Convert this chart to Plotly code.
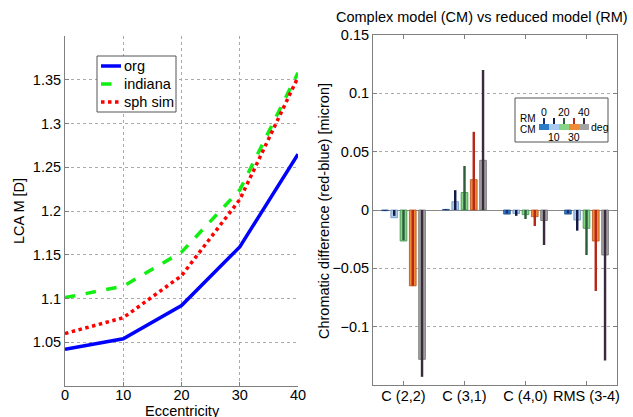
import plotly.graph_objects as go

# ---------------- data ----------------
ecc = [0, 10, 20, 30, 40]
lca_org = [1.042, 1.054, 1.092, 1.159, 1.265]
lca_indiana = [1.101, 1.114, 1.153, 1.224, 1.358]
lca_sphsim = [1.060, 1.078, 1.126, 1.213, 1.353]
series_names = ["org", "indiana", "sph sim"]

categories = ["C (2,2)", "C (3,1)", "C (4,0)", "RMS (3-4)"]
degrees = ["0", "10", "20", "30", "40"]
# complex model (wide bars), one list per eccentricity
cm_0 = [-0.0006, 0.0005, -0.0035, -0.0035]
cm_10 = [-0.0066, 0.0071, -0.0030, -0.0086]
cm_20 = [-0.0266, 0.0150, -0.0040, -0.0157]
cm_30 = [-0.0650, 0.0260, -0.0057, -0.0266]
cm_40 = [-0.1280, 0.0426, -0.0090, -0.0386]
# reduced model (narrow bars)
rm_0 = [-0.0004, 0.0004, -0.0030, -0.0030]
rm_10 = [-0.0050, 0.0170, -0.0050, -0.0177]
rm_20 = [-0.0260, 0.0377, -0.0077, -0.0386]
rm_30 = [-0.0650, 0.0670, -0.0137, -0.0694]
rm_40 = [-0.1430, 0.1200, -0.0300, -0.1290]

cm_series = [cm_0, cm_10, cm_20, cm_30, cm_40]
rm_series = [rm_0, rm_10, rm_20, rm_30, rm_40]

left_yticks = [1.05, 1.1, 1.15, 1.2, 1.25, 1.3, 1.35]
right_yticks = [-0.1, -0.05, 0, 0.05, 0.1, 0.15]

# ---------------- styles ----------------
W, H = 633, 417
FONT = "Liberation Sans, Arial, sans-serif"
FS = 14.5
line_colors = ["#0000ff", "#11ee11", "#ff0000"]
line_dashes = ["solid", "dash", "dot"]
cm_colors = ["#2f7cc6", "#a9c9ee", "#86d586", "#f08a36", "#a3a3a3"]
cm_edges = ["#1c4f86", "#6f8fb8", "#3f8f4f", "#b0501a", "#6f6f6f"]
rm_colors = ["#1d2c78", "#121a45", "#2d5e3a", "#b82818", "#3b2a3d"]


def px(x):
    return x / W


def py(y):
    return 1 - y / H


fig = go.Figure()

# left: LCA lines
for name, ys, c, d in zip(series_names, [lca_org, lca_indiana, lca_sphsim],
                          line_colors, line_dashes):
    fig.add_trace(go.Scatter(x=ecc, y=ys, mode="lines", name=name,
                             line=dict(color=c, width=3.5, dash=d),
                             showlegend=False, xaxis="x", yaxis="y"))

# right: grouped bars
step = 0.152
cm_w = 0.11
rm_w = 0.04
for i in range(5):
    center = -0.304 + i * step
    fig.add_trace(go.Bar(x=categories, y=cm_series[i], width=cm_w,
                         offset=center - cm_w / 2, name="CM " + degrees[i],
                         marker=dict(color=cm_colors[i],
                                     line=dict(color=cm_edges[i], width=0.8)),
                         showlegend=False, xaxis="x2", yaxis="y2"))
for i in range(5):
    center = -0.304 + i * step
    fig.add_trace(go.Bar(x=categories, y=rm_series[i], width=rm_w,
                         offset=center - rm_w / 2, name="RM " + degrees[i],
                         marker=dict(color=rm_colors[i], line=dict(width=0)),
                         showlegend=False, xaxis="x2", yaxis="y2"))

axis_common = dict(
    showline=True, linecolor="#7f7f7f", linewidth=1,
    ticks="inside", ticklen=4, tickcolor="#7f7f7f",
    tickfont=dict(family=FONT, size=FS, color="#000"),
    showgrid=True, gridcolor="#aaaaaa", griddash="dot", gridwidth=1,
    zeroline=False, automargin=False,
)

fig.update_layout(
    width=W, height=H,
    margin=dict(l=0, r=0, t=0, b=0),
    paper_bgcolor="white", plot_bgcolor="white",
    font=dict(family=FONT, size=FS, color="#000"),
    barmode="overlay",
    showlegend=False,
    xaxis=dict(domain=[px(65), px(298)], range=[0, 40],
               tickvals=[0, 10, 20, 30, 40], anchor="y",
               ticklabelstandoff=-4, **axis_common),
    yaxis=dict(domain=[py(386), py(36)], range=[1.0, 1.4],
               tickvals=left_yticks, anchor="x", **axis_common),
    xaxis2=dict(domain=[px(373), px(617)], range=[-0.5, 3.5], type="category",
                anchor="y2", mirror="ticks", ticklabelstandoff=-2,
                **{**axis_common, "showgrid": False}),
    yaxis2=dict(domain=[py(385), py(35)], range=[-0.15, 0.15],
                tickvals=right_yticks, anchor="x2", mirror="ticks",
                **{**axis_common, "zeroline": True, "zerolinecolor": "#8a8a8a",
                   "zerolinewidth": 1}),
)

annotations = [
    dict(text="Complex model (CM) vs reduced model (RM)", x=px(482), y=py(17),
         font=dict(size=FS)),
    dict(text="LCA M [D]", x=px(19), y=py(211), textangle=-90, font=dict(size=FS)),
    dict(text="Eccentricity", x=px(182), y=py(411), font=dict(size=FS)),
    dict(text="Chromatic difference (red-blue) [micron]", x=px(324), y=py(211),
         textangle=-90, font=dict(size=FS)),
    # inset legend texts
    dict(text="RM", x=px(528), y=py(118), font=dict(size=10)),
    dict(text="CM", x=px(528), y=py(129), font=dict(size=10)),
    dict(text="deg", x=px(600), y=py(127), font=dict(size=10.5)),
]
for i, d in enumerate(degrees):
    cx = 544 + i * 10
    yy = 112 if i % 2 == 0 else 137
    annotations.append(dict(text=d, x=px(cx), y=py(yy), font=dict(size=10.5)))

# custom legend for the left panel
legend_rows = [66, 84, 102]
for name, yrow in zip(series_names, legend_rows):
    annotations.append(dict(text=name, x=px(122), y=py(yrow), xanchor="left",
                            font=dict(size=FS)))
for a in annotations:
    a.update(xref="paper", yref="paper", showarrow=False, yanchor="middle")
    a.setdefault("xanchor", "center")
    a.setdefault("font", {})
    a["font"].setdefault("family", FONT)
    a["font"].setdefault("color", "#000")
fig.update_layout(annotations=annotations)

shapes = [
    dict(type="rect", xref="paper", yref="paper",
         x0=px(97), x1=px(176), y0=py(112), y1=py(56),
         line=dict(color="#555555", width=1), fillcolor="white", layer="above"),
    dict(type="rect", xref="paper", yref="paper",
         x0=px(515), x1=px(608), y0=py(142), y1=py(98),
         line=dict(color="#555555", width=1), fillcolor="white", layer="above"),
]
for c, d, yrow in zip(line_colors, line_dashes, legend_rows):
    shapes.append(dict(type="line", xref="paper", yref="paper",
                       x0=px(101), x1=px(121), y0=py(yrow), y1=py(yrow),
                       line=dict(color=c, width=3.5, dash=d), layer="above"))
for i in range(5):
    x0 = 539 + i * 10
    shapes.append(dict(type="rect", xref="paper", yref="paper",
                       x0=px(x0), x1=px(x0 + 10), y0=py(130), y1=py(124),
                       line=dict(width=0), fillcolor=cm_colors[i], layer="above"))
    shapes.append(dict(type="line", xref="paper", yref="paper",
                       x0=px(x0 + 5), x1=px(x0 + 5), y0=py(124), y1=py(118),
                       line=dict(color=rm_colors[i], width=2), layer="above"))
fig.update_layout(shapes=shapes)

fig.write_html("out.html", config={"displayModeBar": False},
               post_script="document.body.style.margin='0';document.body.style.overflow='hidden';")
